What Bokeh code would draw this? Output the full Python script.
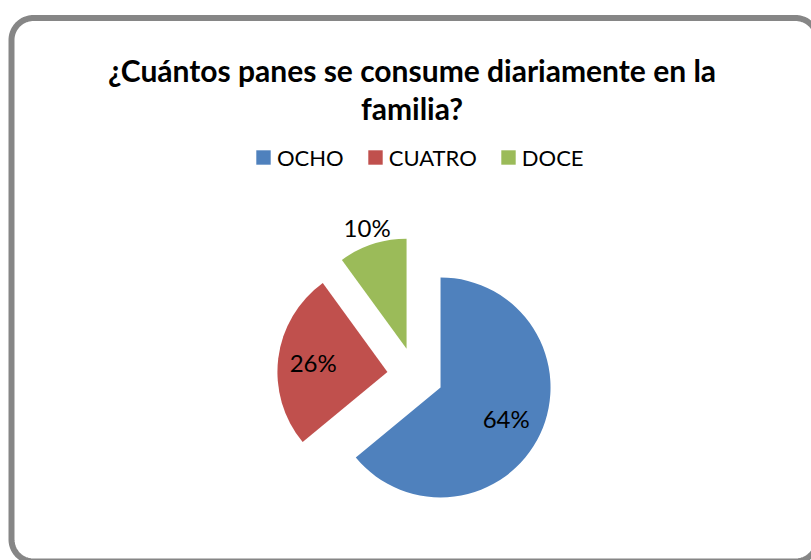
import math

import numpy as np
from bokeh.core.properties import value
from bokeh.embed import file_html
from bokeh.models import (ColumnDataSource, Label, Legend, LegendItem,
                          Range1d)
from bokeh.plotting import figure
from bokeh.resources import INLINE

# ---- data -------------------------------------------------------------
categories = ["OCHO", "CUATRO", "DOCE"]
shares = [64, 26, 10]
colors = ["#4F81BD", "#C0504D", "#9BBB59"]
title_lines = ["¿Cuántos panes se consume diariamente en la", "familia?"]

# ---- layout (canvas pixels, y measured upward) -------------------------
W, H = 811, 560
FONT = "Lato"
cx, cy = 414.7, 185.0      # pie centre
radius = 110               # pie radius
explode = 28               # every slice pulled out along its bisector
label_r = [0.66, 0.68, 1.16]  # label distance from slice tip, in radii

# slices start at 12 o'clock and run clockwise
total = float(sum(shares))
xs, ys, starts, ends, lx, ly, texts = [], [], [], [], [], [], []
cum = 0.0
for i, v in enumerate(shares):
    s = cum / total
    e = (cum + v) / total
    cum += v
    a0 = math.pi / 2 - 2 * math.pi * e
    a1 = math.pi / 2 - 2 * math.pi * s
    mid = (a0 + a1) / 2
    x = cx + explode * math.cos(mid)
    y = cy + explode * math.sin(mid)
    xs.append(x)
    ys.append(y)
    starts.append(a0)
    ends.append(a1)
    lx.append(x + label_r[i] * radius * math.cos(mid))
    ly.append(y + label_r[i] * radius * math.sin(mid))
    texts.append(f"{v}%")

src = ColumnDataSource(dict(x=xs, y=ys, start=starts, end=ends,
                            color=colors, cat=categories))
lab = ColumnDataSource(dict(x=lx, y=ly, text=texts))

p = figure(width=W, height=H, output_backend="svg", toolbar_location=None,
           x_range=Range1d(0, W), y_range=Range1d(0, H),
           min_border=0, outline_line_color=None,
           background_fill_color="white", border_fill_color="white")
p.axis.visible = False
p.grid.visible = False


def rounded_rect(left, right, bottom, top, r, n=24):
    """Open outline of a rounded rectangle, skipping its right side."""
    px, py = [], []
    corners = [(right - r, top - r, 0.0), (left + r, top - r, 90.0),
               (left + r, bottom + r, 180.0), (right - r, bottom + r, 270.0)]
    for ccx, ccy, a in corners:
        t = np.radians(np.linspace(a, a + 90, n))
        px.extend(ccx + r * np.cos(t))
        py.extend(ccy + r * np.sin(t))
    return px, py


# chart frame; its right side lies beyond the canvas edge
fx, fy = rounded_rect(11, 817, -1, H - 17.5, 22)
p.line(fx, fy, line_color="#868686", line_width=6)

wedges = p.wedge(x="x", y="y", radius=radius, start_angle="start",
                 end_angle="end", fill_color="color", line_color=None,
                 source=src)

p.text(x="x", y="y", text="text", source=lab, text_align="center",
       text_baseline="middle", text_font=value(FONT), text_font_size="24px",
       text_color="black")

# two-line title
for txt, base in zip(title_lines, [H - 69, H - 107]):
    p.add_layout(Label(x=W / 2 + 6, y=base, text=txt, text_align="center",
                       text_baseline="alphabetic", text_font=FONT,
                       text_font_style="bold", text_font_size="30px",
                       text_color="black"))

legend = Legend(
    items=[LegendItem(label=c, renderers=[wedges], index=i)
           for i, c in enumerate(categories)],
    orientation="horizontal", location=(254, H - 170.5),
    glyph_width=18, glyph_height=18, label_standoff=5, spacing=22,
    padding=0, margin=0, border_line_alpha=0, background_fill_alpha=0,
    label_text_font=FONT, label_text_font_size="22px",
    label_text_color="black", label_height=20)
p.add_layout(legend)

open("out.html", "w").write(file_html(p, INLINE))
